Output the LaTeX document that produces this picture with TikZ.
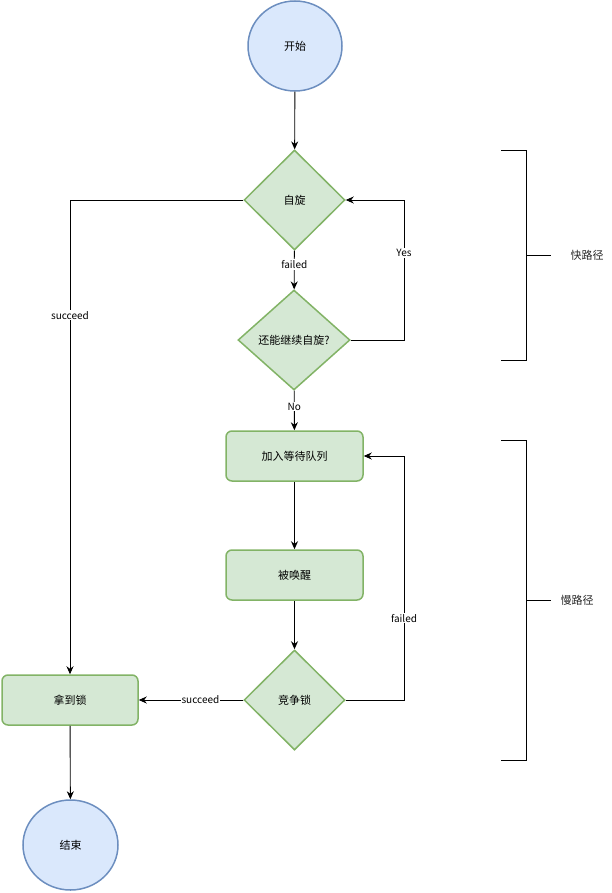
\documentclass[tikz,border=0pt]{standalone}
\usepackage{fontspec}
\setmainfont{Noto Sans CJK SC}
\usetikzlibrary{shapes.geometric,arrows.meta}
\definecolor{bluefill}{HTML}{DAE8FC}
\definecolor{bluedraw}{HTML}{6C8EBF}
\definecolor{greenfill}{HTML}{D5E8D4}
\definecolor{greendraw}{HTML}{82B366}
\tikzset{
  startend/.style={ellipse, draw=bluedraw, fill=bluefill, line width=1.5pt, minimum width=94pt, minimum height=90pt, inner sep=0pt, font=\fontsize{11}{13}\selectfont},
  decision/.style={diamond, draw=greendraw, fill=greenfill, line width=1.5pt, inner sep=0pt, font=\fontsize{11}{13}\selectfont},
  procbox/.style={rectangle, rounded corners=6pt, draw=greendraw, fill=greenfill, line width=1.5pt, minimum width=137pt, minimum height=50pt, inner sep=0pt, font=\fontsize{11}{13}\selectfont},
  conn/.style={draw=black, line width=0.9pt, -{Stealth[length=8pt,width=7pt]}},
  plainline/.style={draw=black, line width=0.9pt},
  elabel/.style={fill=white, inner sep=1pt, font=\fontsize{10}{12}\selectfont},
  sidelabel/.style={inner sep=0pt, font=\fontsize{11}{13}\selectfont, text=black!85}
}
\begin{document}
\begin{tikzpicture}[x=1pt,y=-1pt]
\useasboundingbox (0,0) rectangle (612,893);
% nodes
\node[startend] (start) at (295,46) {开始};
\node[decision, minimum width=101pt, minimum height=100pt] (spin) at (294.5,200) {自旋};
\node[decision, minimum width=112pt, minimum height=100pt] (cont) at (294,340) {还能继续自旋?};
\node[procbox] (queue) at (294.5,456) {加入等待队列};
\node[procbox] (wake) at (294.5,575) {被唤醒};
\node[decision, minimum width=101pt, minimum height=100pt] (compete) at (294.5,700) {竞争锁};
\node[procbox, minimum width=136pt] (got) at (70,700) {拿到锁};
\node[startend, minimum width=95pt] (end) at (70.5,845) {结束};
% connectors
\draw[conn] (start) -- (spin);
\draw[conn] (spin) -- node[elabel, pos=0.36] {failed} (cont);
\coordinate (yesR1) at (404,340);
\coordinate (yesR2) at (404,200);
\draw[conn] (cont.east) -- (yesR1) -- node[elabel, pos=0.62] {Yes} (yesR2) -- (spin.east);
\coordinate (sucL) at (70,200);
\draw[conn] (spin.west) -- (sucL) -- node[elabel, pos=0.243] {succeed} (got.north);
\draw[conn] (cont) -- node[elabel, pos=0.4] {No} (queue);
\draw[conn] (queue) -- (wake);
\draw[conn] (wake) -- (compete);
\coordinate (failR1) at (404,700);
\coordinate (failR2) at (404,456);
\draw[conn] (compete.east) -- (failR1) -- node[elabel, pos=0.336] {failed} (failR2) -- (queue.east);
\draw[conn] (compete.west) -- node[elabel, pos=0.41] {succeed} (got.east);
\draw[conn] (got) -- (end);
% brackets
\coordinate (b1t) at (501,150);
\coordinate (b1tr) at (526,150);
\coordinate (b1br) at (526,360);
\coordinate (b1b) at (501,360);
\coordinate (b1m) at (526,255);
\coordinate (b1e) at (551,255);
\draw[plainline] (b1t) -- (b1tr) -- (b1br) -- (b1b);
\draw[plainline] (b1m) -- (b1e);
\node[sidelabel] (fast) at (587,255) {快路径};
\coordinate (b2t) at (501,440);
\coordinate (b2tr) at (526,440);
\coordinate (b2br) at (526,760);
\coordinate (b2b) at (501,760);
\coordinate (b2m) at (526,600);
\coordinate (b2e) at (551,600);
\draw[plainline] (b2t) -- (b2tr) -- (b2br) -- (b2b);
\draw[plainline] (b2m) -- (b2e);
\node[sidelabel] (slow) at (577,600) {慢路径};
\end{tikzpicture}
\end{document}
